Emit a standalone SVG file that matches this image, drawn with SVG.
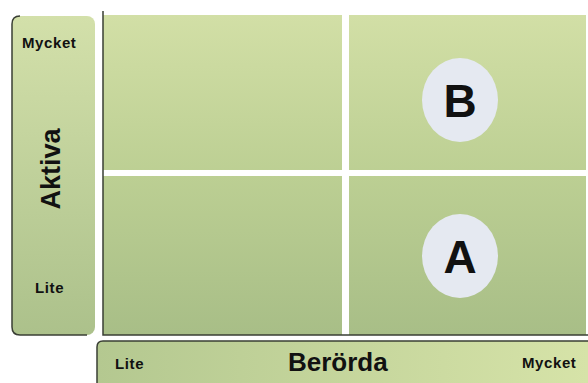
<svg xmlns="http://www.w3.org/2000/svg" width="588" height="383" viewBox="0 0 588 383">
<defs>
<linearGradient id="gv" x1="0" y1="0" x2="0" y2="1">
<stop offset="0" stop-color="#d2dfa6"/>
<stop offset="0.5" stop-color="#bccf93"/>
<stop offset="1" stop-color="#a8be87"/>
</linearGradient>
<linearGradient id="gh" x1="0" y1="0" x2="1" y2="0">
<stop offset="0" stop-color="#b4c890"/>
<stop offset="1" stop-color="#d6e3a8"/>
</linearGradient>
<linearGradient id="gl" x1="0" y1="0" x2="0" y2="1">
<stop offset="0" stop-color="#d3e0aa"/>
<stop offset="1" stop-color="#acc18b"/>
</linearGradient>
</defs>
<style>
.lbl{font-family:"Liberation Sans",Arial,sans-serif;font-weight:bold;fill:#111;}
.sm{font-size:15px;letter-spacing:0.6px;}
.big{font-size:46px;text-anchor:middle;}
.edge{fill:none;stroke:#3a3f35;stroke-width:1.5;}
.circ{fill:#e5e9f1;}
</style>
<rect width="588" height="383" fill="#ffffff"/>
<g id="axis-y">
<rect x="12" y="16" width="83" height="319" rx="8" fill="url(#gl)"/>
<path class="edge" d="M20,16 Q12,16 12,24 L12,327 Q12,335 20,335 L87,335"/>
<text class="lbl sm" x="22" y="48">Mycket</text>
<text class="lbl sm" x="35" y="293">Lite</text>
<text class="lbl" font-size="27" text-anchor="middle" transform="translate(60,169) rotate(-90)">Aktiva</text>
</g>
<g id="grid">
<rect x="103" y="15" width="483" height="320" fill="url(#gv)"/>
<rect x="103" y="170" width="483" height="6" fill="#ffffff"/>
<rect x="342" y="15" width="7" height="320" fill="#ffffff"/>
<path class="edge" d="M103,11 L103,335 L588,335"/>
</g>
<g id="axis-x">
<path d="M97,383 L97,347 Q97,341 103,341 L588,341 L588,383 Z" fill="url(#gh)"/>
<path class="edge" d="M97,383 L97,347 Q97,341 103,341 L588,341"/>
<text class="lbl sm" x="115" y="369">Lite</text>
<text class="lbl" font-size="26" x="288" y="371">Berörda</text>
<text class="lbl sm" x="522" y="368">Mycket</text>
</g>
<g id="node-B">
<ellipse class="circ" cx="460" cy="100" rx="38" ry="42"/>
<text class="lbl big" x="460" y="117">B</text>
</g>
<g id="node-A">
<ellipse class="circ" cx="460" cy="256" rx="38" ry="42"/>
<text class="lbl big" x="460" y="273">A</text>
</g>
</svg>
